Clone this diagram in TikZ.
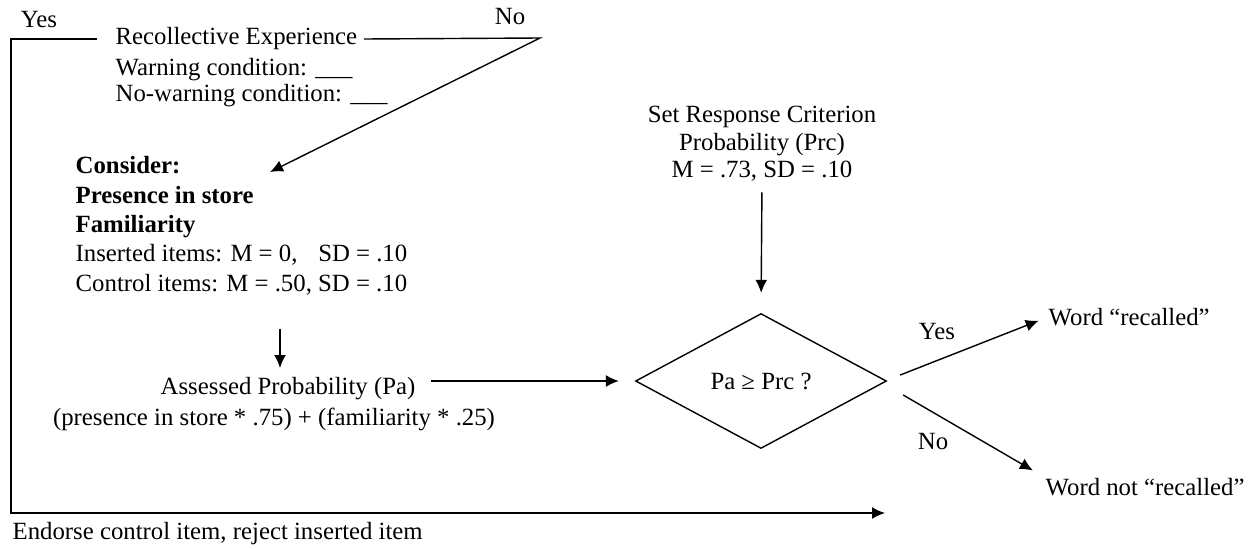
\documentclass[tikz,border=0pt]{standalone}
\usepackage{fontspec}
\setmainfont{Liberation Serif}
\usetikzlibrary{shapes.geometric,arrows.meta}
\begin{document}
\begin{tikzpicture}[x=0.02cm,y=-0.02cm,line width=0.8pt,
  font=\fontsize{14.1}{15.9}\selectfont,
  txt/.style={inner sep=0pt},
  arr/.style={-{Latex[length=7.4pt,width=6.8pt]}}]
\useasboundingbox (0,0) rectangle (1253,548);
\node[txt] (yes1) at (39,20) {Yes};
\node[txt] (no1) at (510,17) {No};
\node[txt,anchor=west] (recol) at (115,39) {Recollective Experience};
\node[txt,anchor=north west,align=left,font=\fontsize{14.1}{14.5}\selectfont] (cond) at (115,58) {Warning condition: \_\_\_\\No-warning condition: \_\_\_};
\node[txt,anchor=north west,align=left,font=\fontsize{14.1}{16.7}\selectfont] (consider) at (75,156) {\textbf{Consider:}\\\textbf{Presence in store}\\\textbf{Familiarity}\\Inserted items: M = 0,\hspace{0.84em}SD = .10\\Control items: M = .50, SD = .10};
\node[txt,anchor=north] (assessed) at (288,377) {Assessed Probability (Pa)};
\node[txt,anchor=north] (formula) at (274,407) {(presence in store * .75) + (familiarity * .25)};
\node[txt,anchor=north,align=center] (crit) at (762,105) {Set Response Criterion\\Probability (Prc)\\M = .73, SD = .10};
\node[draw,diamond,aspect=1.86,minimum width=5.02cm,minimum height=2.7cm,inner sep=0pt] (decide) at (761,381) {Pa ≥ Prc ?};
\node[txt,anchor=west] (recalled) at (1048,317) {Word ``recalled''};
\node[txt,anchor=west] (notrec) at (1045,487) {Word not ``recalled''};
\node[txt] (yes2) at (937,332) {Yes};
\node[txt] (no2) at (933,442) {No};
\node[txt,anchor=west] (endorse) at (12,534) {Endorse control item, reject inserted item};
\coordinate (noturn) at (540,38);
\coordinate (contip) at (270,172);
\coordinate (corner) at (11,513);
\coordinate (endtip) at (885,513);
\coordinate (downx) at (280,0);
\draw[arr] ([xshift=-0.36cm]recol.west) -| (corner) -- (endtip);
\draw[arr] ([xshift=0.12cm]recol.east) -- (noturn) -- (contip);
\draw[arr,shorten <=0.66cm,shorten >=0.18cm] (consider.south -| downx) -- (assessed.north -| downx);
\draw[arr,shorten <=0.3cm,shorten >=0.32cm] (assessed.east |- decide.west) -- (decide.west);
\draw[arr,shorten <=0.2cm,shorten >=0.4cm] (crit.south) -- (decide.north);
\draw[arr,shorten >=0.2cm] (decide.east) ++(13,-6) -- (recalled.west);
\draw[arr,shorten >=0.28cm] (decide.east) ++(16,14) -- (notrec.north west);
\end{tikzpicture}
\end{document}
